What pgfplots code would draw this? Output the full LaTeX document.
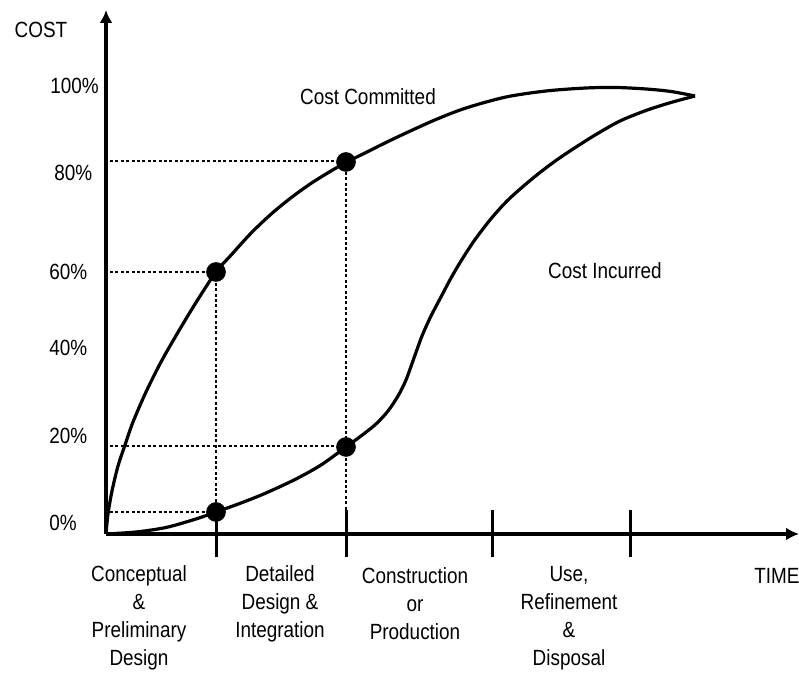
\documentclass[border=0pt]{standalone}
\usepackage{fontspec}
\setmainfont{Liberation Sans}[FakeStretch=0.86]
\usepackage{pgfplots}
\pgfplotsset{compat=1.18}
\usetikzlibrary{arrows.meta}

\newcommand\lbl{\fontsize{11}{14}\selectfont}

\begin{document}
\begin{tikzpicture}
\begin{axis}[
    x=0.5pt, y=0.5pt,
    xmin=0, xmax=693, ymin=0, ymax=524,
    enlargelimits=false,
    axis lines=left,
    axis line style={line width=1.6pt, -{Latex[length=6.5pt,width=6.5pt]}},
    xtick={110,240,386,524},
    xticklabels={},
    ytick=\empty,
    major tick length=23.5pt,
    tick align=center,
    tick style={line width=1.5pt, black},
    clip=false,
]
% guide lines
\addplot[black, line width=0.8pt, dash pattern=on 1.5pt off 1.2pt] coordinates {(4,262) (110,262)};
\addplot[black, line width=0.8pt, dash pattern=on 1.5pt off 1.2pt] coordinates {(4,373) (240,373)};
\addplot[black, line width=0.8pt, dash pattern=on 1.5pt off 1.2pt] coordinates {(4,88) (240,88)};
\addplot[black, line width=0.8pt, dash pattern=on 1.5pt off 1.2pt] coordinates {(4,22) (110,22)};
\addplot[black, line width=0.8pt, dash pattern=on 1.5pt off 1.2pt] coordinates {(110,262) (110,0)};
\addplot[black, line width=0.8pt, dash pattern=on 1.5pt off 1.2pt] coordinates {(240,373) (240,24)};

% cost committed
\addplot[black, line width=1.6pt, smooth] coordinates {
  (0,0) (2,20) (6,43) (12,68) (19,89) (27,112) (40,142) (55,172) (71,200)
  (90,231.5) (110,262) (125,278.8) (145,300.8) (165,319.8) (185,336.2)
  (205,350.6) (225,363) (240,371.5) (260,381.5) (280,391.5) (300,401)
  (330,414.5) (360,426) (400,437) (440,443) (480,446) (510,446.5)
  (540,445) (565,442.5) (589,438)
};
% cost incurred
\addplot[black, line width=1.6pt, smooth] coordinates {
  (0,0) (30,2) (60,6.5) (90,15) (110,22) (135,31) (160,41) (190,55)
  (215,69) (240,87) (255,98) (270,110) (282,123) (292,138) (300,154)
  (308,176) (316,198) (325,218) (335,237) (345,256) (355,273) (368,293)
  (384,314) (400,332) (417,347.5) (434,361.5) (450,373.5) (467,385)
  (490,399.5) (514,413) (540,423.5) (565,431.5) (589,438)
};
% points
\addplot[only marks, mark=*, mark size=4.7pt, black] coordinates {
  (110,262) (240,372) (240,87) (110,22)
};

\node[font=\lbl, inner sep=0pt] at (axis cs:-65,504) {COST};
\node[font=\lbl, inner sep=0pt, anchor=west] at (axis cs:-56,448) {100\%};
\node[font=\lbl, inner sep=0pt, anchor=west] at (axis cs:-52,361) {80\%};
\node[font=\lbl, inner sep=0pt, anchor=west] at (axis cs:-57,262) {60\%};
\node[font=\lbl, inner sep=0pt, anchor=west] at (axis cs:-57,186) {40\%};
\node[font=\lbl, inner sep=0pt, anchor=west] at (axis cs:-57,98) {20\%};
\node[font=\lbl, inner sep=0pt, anchor=west] at (axis cs:-57,11) {0\%};

\node[font=\lbl, inner sep=0pt] at (axis cs:262,437) {Cost Committed};
\node[font=\lbl, inner sep=0pt] at (axis cs:499,263) {Cost Incurred};
\node[font=\lbl, inner sep=0pt] at (axis cs:671,-42) {TIME};

\node[font=\lbl, inner sep=0pt, align=center] at (axis cs:33,-84) {Conceptual\\\&\\Preliminary\\Design};
\node[font=\lbl, inner sep=0pt, align=center] at (axis cs:174,-70) {Detailed\\Design \&\\Integration};
\node[font=\lbl, inner sep=0pt, align=center] at (axis cs:309,-70) {Construction\\or\\Production};
\node[font=\lbl, inner sep=0pt, align=center] at (axis cs:463,-84) {Use,\\Refinement\\\&\\Disposal};

\coordinate (bbll) at (axis cs:-106,-139);
\coordinate (bbur) at (axis cs:693,534);
\end{axis}
\pgfresetboundingbox
\path (bbll) rectangle (bbur);
\end{tikzpicture}
\end{document}
